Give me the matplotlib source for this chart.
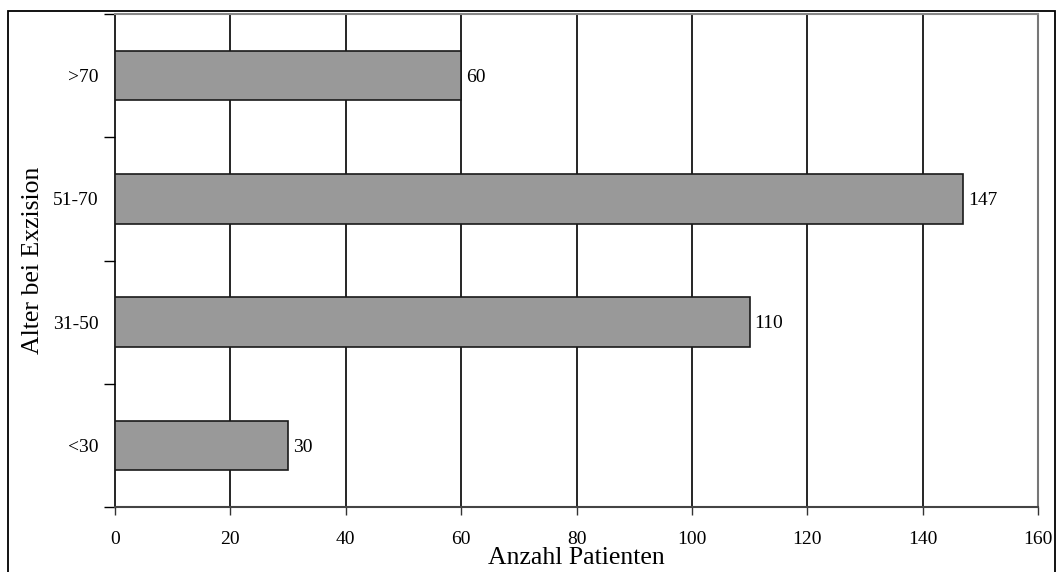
import matplotlib
matplotlib.use("Agg")
import matplotlib.pyplot as plt
from matplotlib.patches import Rectangle

categories = ["<30", "31-50", "51-70", ">70"]
values = [30, 110, 147, 60]
xticks = [0, 20, 40, 60, 80, 100, 120, 140, 160]

plt.rcParams['font.family'] = ['Liberation Serif', 'DejaVu Serif']

W, H = 1056, 572
fig = plt.figure(figsize=(W/100, H/100), dpi=100)
ax_l, ax_r, ax_t, ax_b = 115, 1038, 14, 507
ax = fig.add_axes([ax_l/W, 1-ax_b/H, (ax_r-ax_l)/W, (ax_b-ax_t)/H])

y = list(range(len(categories)))
ax.barh(y, values, height=0.4, color="#999999", edgecolor="#1a1a1a", linewidth=1.2, zorder=3)
for yi, v in zip(y, values):
    ax.annotate(str(v), xy=(v, yi), xytext=(3.5, -1.2), textcoords='offset points',
                va="center", ha="left", fontsize=14, zorder=4)

ax.set_xlim(0, 160)
ax.set_ylim(-0.5, len(categories) - 0.5)
ax.set_xticks(xticks)
ax.set_xticklabels([str(t) for t in xticks], fontsize=14)
ax.set_yticks(y)
ax.set_yticklabels(categories, fontsize=14)
ax.set_yticks([i - 0.5 for i in range(len(categories) + 1)], minor=True)
ax.tick_params(axis='y', which='major', length=0, pad=12)
ax.tick_params(axis='y', which='minor', length=8, width=1, direction='out', color='black')
ax.tick_params(axis='x', which='major', length=6, width=1, direction='out', pad=11, color='#333333')

for t in xticks[1:-1]:
    ax.axvline(t, color='black', linewidth=1.2, zorder=1)

ax.spines['left'].set_color('black')
ax.spines['left'].set_linewidth(1.2)
ax.spines['bottom'].set_color('#444444')
ax.spines['bottom'].set_linewidth(1.5)
ax.spines['right'].set_color('#777777')
ax.spines['right'].set_linewidth(1.5)
ax.spines['top'].set_color('#888888')
ax.spines['top'].set_linewidth(1.5)

ax.set_xlabel("Anzahl Patienten", fontsize=18.5, va='center', ha='center')
ax.xaxis.set_label_coords(0.5, (ax_b - 558) / (ax_b - ax_t))
ax.set_ylabel("Alter bei Exzision", fontsize=18.5, va='center', ha='center')
ax.yaxis.set_label_coords((33 - ax_l) / (ax_r - ax_l), 0.5)

# outer frame
fig.patches.append(Rectangle((8/W, -0.01), (1055-8)/W, 1-11/H+0.01, transform=fig.transFigure,
                             fill=False, edgecolor='black', linewidth=1.3))

fig.savefig("out.png", dpi=100)
